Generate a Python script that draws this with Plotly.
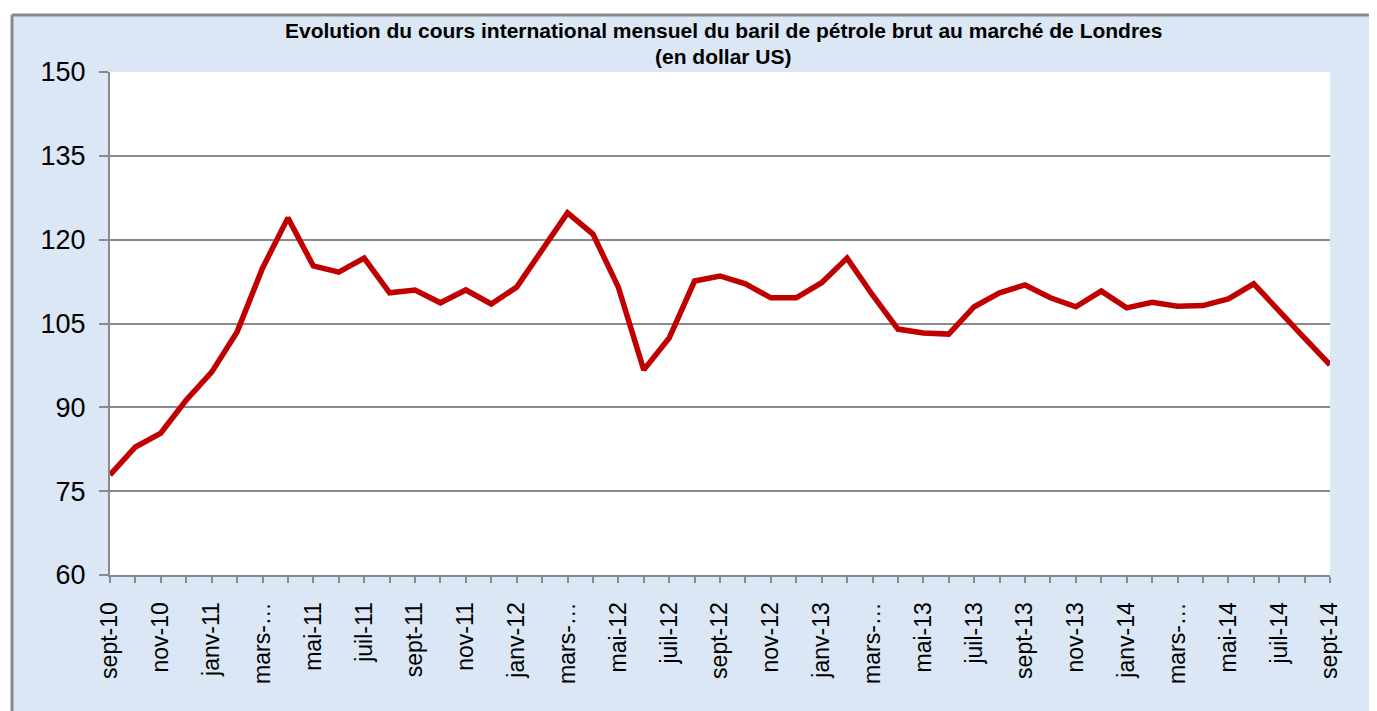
import plotly.graph_objects as go

months = [
    "sept-10", "oct-10", "nov-10", "déc-10",
    "janv-11", "févr-11", "mars-11", "avr-11", "mai-11", "juin-11", "juil-11", "août-11", "sept-11", "oct-11", "nov-11", "déc-11",
    "janv-12", "févr-12", "mars-12", "avr-12", "mai-12", "juin-12", "juil-12", "août-12", "sept-12", "oct-12", "nov-12", "déc-12",
    "janv-13", "févr-13", "mars-13", "avr-13", "mai-13", "juin-13", "juil-13", "août-13", "sept-13", "oct-13", "nov-13", "déc-13",
    "janv-14", "févr-14", "mars-14", "avr-14", "mai-14", "juin-14", "juil-14", "août-14", "sept-14",
]

prices = [
    77.9, 82.9, 85.4, 91.3,
    96.3, 103.5, 114.9, 123.9, 115.3, 114.2, 116.7, 110.5, 111.0, 108.7, 111.0, 108.5,
    111.5, 118.2, 124.8, 121.0, 111.5, 96.7, 102.4, 112.6, 113.5, 112.1, 109.6, 109.6,
    112.3, 116.7, 110.1, 104.0, 103.3, 103.1, 108.0, 110.5, 111.9, 109.6, 108.0, 110.8,
    107.8, 108.8, 108.1, 108.2, 109.4, 112.1, 107.4, 102.4, 97.6,
]

# Labels shown on the axis (every second month; "mars" is truncated as in the original)
tick_labels = [
    "sept-10", "", "nov-10", "",
    "janv-11", "", "mars-…", "", "mai-11", "", "juil-11", "", "sept-11", "", "nov-11", "",
    "janv-12", "", "mars-…", "", "mai-12", "", "juil-12", "", "sept-12", "", "nov-12", "",
    "janv-13", "", "mars-…", "", "mai-13", "", "juil-13", "", "sept-13", "", "nov-13", "",
    "janv-14", "", "mars-…", "", "mai-14", "", "juil-14", "", "sept-14",
]

y_ticks = [60, 75, 90, 105, 120, 135, 150]

title_lines = [
    "Evolution du cours international mensuel du baril de pétrole brut au marché de Londres",
    "(en dollar US)",
]

x_idx = list(range(len(months)))

# page has an 8px body margin; figure coords = screen coords - 8
OFF = 8
W, H = 1377 - OFF, 711 - OFF
L, T = 110 - OFF, 72 - OFF
pw, ph = 1220, 503
R = W - L - pw
B = H - T - ph

def px_x(p):  # screen px -> paper
    return (p - OFF - L) / pw

def px_y(p):
    return (T + ph - (p - OFF)) / ph

fig = go.Figure()
fig.add_trace(go.Scatter(
    x=x_idx, y=prices, mode="lines",
    line=dict(color="#c00000", width=5.5),
    customdata=months,
    hovertemplate="%{customdata}: %{y}<extra></extra>",
))

grid = "#8a8a8a"
fig.update_layout(
    width=W, height=H,
    margin=dict(l=L, r=R, t=T, b=B),
    paper_bgcolor="#dbe7f4",
    plot_bgcolor="white",
    showlegend=False,
    font=dict(family="Arial, Liberation Sans, sans-serif", color="black"),
    xaxis=dict(
        range=[0, len(months) - 1],
        tickmode="array", tickvals=x_idx, ticktext=tick_labels,
        tickangle=-90,
        ticks="outside", ticklen=6, tickcolor=grid, tickwidth=1.5,
        showgrid=False, zeroline=False,
        showline=True, linecolor=grid, linewidth=2,
        tickfont=dict(size=23, color="black"),
        ticklabelstandoff=10,
    ),
    yaxis=dict(
        range=[60, 150],
        tickmode="array", tickvals=y_ticks,
        ticks="outside", ticklen=9, tickcolor=grid, tickwidth=1.5,
        showgrid=True, gridcolor=grid, gridwidth=2,
        zeroline=False,
        showline=True, linecolor=grid, linewidth=2,
        tickfont=dict(size=27, color="black"),
        ticklabelstandoff=8,
    ),
    shapes=[
        # white outside strips
        dict(type="rect", xref="paper", yref="paper",
             x0=px_x(OFF), x1=px_x(11), y0=px_y(711), y1=px_y(OFF),
             fillcolor="white", line=dict(width=0), layer="above"),
        dict(type="rect", xref="paper", yref="paper",
             x0=px_x(OFF), x1=px_x(1377), y0=px_y(14), y1=px_y(OFF),
             fillcolor="white", line=dict(width=0), layer="above"),
        # gray frame (top and left only)
        dict(type="line", xref="paper", yref="paper",
             x0=px_x(12), x1=px_x(1377), y0=px_y(15), y1=px_y(15),
             line=dict(color="#8a8a8a", width=3), layer="above"),
        dict(type="line", xref="paper", yref="paper",
             x0=px_x(12), x1=px_x(12), y0=px_y(15), y1=px_y(711),
             line=dict(color="#8a8a8a", width=3), layer="above"),
    ],
    annotations=[
        dict(xref="paper", yref="paper", x=px_x(723), y=px_y(31),
             xanchor="center", yanchor="middle",
             text="<b>" + title_lines[0] + "</b>", showarrow=False,
             font=dict(size=21, color="black", family="Arial, Liberation Sans, sans-serif")),
        dict(xref="paper", yref="paper", x=px_x(723), y=px_y(56),
             xanchor="center", yanchor="middle",
             text="<b>" + title_lines[1] + "</b>", showarrow=False,
             font=dict(size=21, color="black", family="Arial, Liberation Sans, sans-serif")),
    ],
)

fig.write_html("out.html")
